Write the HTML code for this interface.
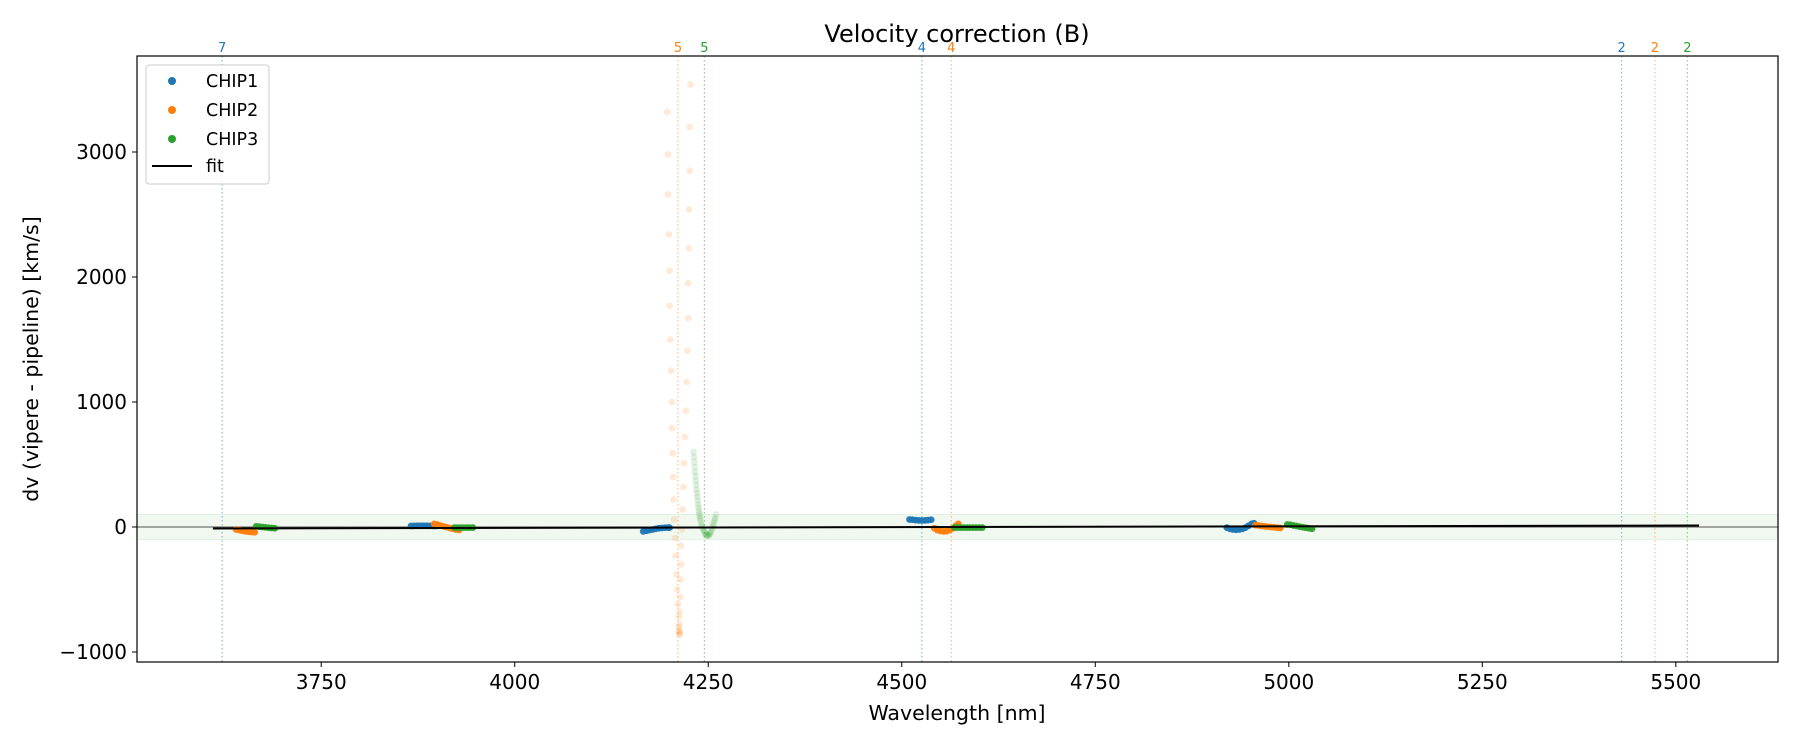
<!DOCTYPE html>
<html><head><meta charset="utf-8"><style>
body{margin:0;background:#fff}
svg{display:block;font-family:"DejaVu Sans","Liberation Sans",sans-serif}
</style></head><body>
<svg id="chart" width="1800" height="750" viewBox="0 0 1800 750"></svg>
<script>
const xTicks=[3750,4000,4250,4500,4750,5000,5250,5500];
const yTicks=[-1000,0,1000,2000,3000];
const vlineWl=[3622,4211,4245,4526,4564,5430,5473,5515];
const vlineLabel=["7","5","5","4","4","2","2","2"];
const vlineChip=[0,1,2,0,1,0,1,2];
const chip1=[[3866,8],[3870,9],[3874,10],[3878,10],[3882,10],[3886,10],[3890,9],[3894,9],[3898,8],
[4166,-35],[4170,-30],[4174,-25],[4178,-20],[4182,-15],[4186,-10],[4190,-8],[4194,-6],[4198,-5],[4200,-5],
[4510,60],[4514,58],[4518,55],[4522,53],[4526,52],[4530,53],[4534,55],[4538,58],
[4920,-5],[4924,-15],[4928,-20],[4932,-22],[4936,-20],[4940,-15],[4944,-5],[4948,10],[4952,25],[4955,30]];
const chip2=[[3640,-20],[3644,-25],[3648,-30],[3652,-35],[3656,-38],[3660,-40],[3664,-42],
[3896,25],[3900,20],[3904,12],[3908,5],[3912,-2],[3916,-8],[3920,-14],[3924,-20],[3928,-24],
[4542,-10],[4546,-25],[4550,-32],[4554,-35],[4558,-33],[4562,-25],[4566,-10],[4570,10],[4573,25],
[4957,15],[4961,12],[4965,8],[4969,5],[4973,2],[4977,0],[4981,-2],[4985,-5],[4989,-8]];
const chip2Outliers=[[4197,3320],[4198,2980],[4198,2660],[4199,2340],[4200,2050],[4200,1770],[4201,1500],[4202,1250],[4203,1000],[4203,790],[4204,590],[4205,400],[4205,220],[4206,60],[4207,-90],[4208,-230],[4209,-380],[4210,-500],[4211,-620],[4212,-720],[4212,-800],[4213,-850],
[4227,3540],[4226,3200],[4226,2850],[4225,2540],[4225,2230],[4224,1950],[4224,1670],[4223,1410],[4222,1160],[4221,930],[4220,720],[4219,510],[4218,320],[4217,140],[4216,-20],[4215,-150],[4215,-300],[4214,-420],[4214,-560],[4213,-680],[4213,-780],[4213,-830],[4213,-860],[4212,-840]];
const chip3=[[3666,5],[3670,3],[3674,0],[3678,-3],[3682,-6],[3686,-8],[3690,-10],
[3922,-5],[3926,-5],[3930,-5],[3934,-5],[3938,-5],[3942,-5],[3946,-5],
[4568,-5],[4572,-5],[4576,-5],[4580,-5],[4584,-5],[4588,-5],[4592,-5],[4596,-5],[4600,-5],[4604,-5],
[4998,20],[5002,18],[5006,12],[5010,8],[5014,3],[5018,-2],[5022,-6],[5026,-10],[5030,-14]];
const chip3Outliers=[[4231,600],[4231.5,560],[4232,520],[4232.5,480],[4233,440],[4233.5,405],[4234,370],[4234.5,335],[4235,300],[4235.5,270],[4236,240],[4236.5,210],[4237,180],[4237.5,155],[4238,130],[4238.5,110],[4239,90],[4239.5,70],[4240,50],[4241,20],[4242,5],[4243,-10],[4244,-25],[4245,-40],[4246,-50],[4247,-60],[4248,-65],[4249,-70],[4250,-70],[4251,-65],[4252,-55],[4253,-45],[4254,-30],[4255,-10],[4256,10],[4257,30],[4258,50],[4259,70],[4260,100]];
const fitWl=[3610,5530];
const fitV=[-12,12];

const NS="http://www.w3.org/2000/svg";
const svg=document.getElementById('chart');
const L=137,R=1778,T=56,B=662;
const xMin=3512,xMax=5632,yMin=-1080,yMax=3768;
const xs=v=>L+(v-xMin)/(xMax-xMin)*(R-L);
const ys=v=>B-(v-yMin)/(yMax-yMin)*(B-T);
const colors=["#1f77b4","#ff7f0e","#2ca02c"];
function mk(tag,attrs,parent){const e=document.createElementNS(NS,tag);for(const k in attrs)e.setAttribute(k,attrs[k]);(parent||svg).appendChild(e);return e;}

const band=mk('rect',{x:L,y:ys(100),width:R-L,height:ys(-100)-ys(100),fill:'#2ca02c','fill-opacity':0.07,stroke:'#2ca02c','stroke-opacity':0.1});



vlineWl.forEach((w,i)=>{
  const l=mk('line',{x1:xs(w),x2:xs(w),y1:T,y2:B,stroke:colors[vlineChip[i]],'stroke-opacity':0.5,'stroke-width':1.2,'stroke-dasharray':'1.5,2.5'});
  
  
  const t=mk('text',{x:xs(w),y:T-4,'text-anchor':'middle','font-size':13,fill:colors[vlineChip[i]]});
  t.textContent=vlineLabel[i];
  
  
});

const zl=mk('line',{x1:L,x2:R,y1:ys(0),y2:ys(0),stroke:'#555','stroke-width':1});



function dots(arr,c,op,name){
  arr.forEach(p=>{
    const d=mk('circle',{cx:xs(p[0]),cy:ys(p[1]),r:3.4,fill:c,'fill-opacity':op});
    
    
  });
}
dots(chip2Outliers,colors[1],0.16,'chip2-outlier-point');
dots(chip3Outliers,colors[2],0.15,'chip3-outlier-point');
dots(chip1,colors[0],0.95,'chip1-point');
dots(chip2,colors[1],0.95,'chip2-point');
dots(chip3,colors[2],0.95,'chip3-point');

const fit=mk('line',{x1:xs(fitWl[0]),y1:ys(fitV[0]),x2:xs(fitWl[1]),y2:ys(fitV[1]),stroke:'#000','stroke-width':2});



const frame=mk('rect',{x:L,y:T,width:R-L,height:B-T,fill:'none',stroke:'#000','stroke-width':1.2});



xTicks.forEach(v=>{
  const l=mk('line',{x1:xs(v),x2:xs(v),y1:B,y2:B+5,stroke:'#000'});
  
  
  const t=mk('text',{x:xs(v),y:B+27,'text-anchor':'middle','font-size':20});
  t.textContent=v;
  
  
});
yTicks.forEach(v=>{
  const l=mk('line',{x1:L-5,x2:L,y1:ys(v),y2:ys(v),stroke:'#000'});
  
  
  const t=mk('text',{x:L-10,y:ys(v)+7,'text-anchor':'end','font-size':20});
  t.textContent=v<0?'\u2212'+(-v):v;
  
  
});
</script>
<svg style="position:absolute;left:0;top:0" width="1800" height="750">
<text x="957" y="42" text-anchor="middle" font-size="24" font-family="DejaVu Sans, Liberation Sans, sans-serif">Velocity correction (B)</text>
<text x="957" y="720" text-anchor="middle" font-size="20.5" font-family="DejaVu Sans, Liberation Sans, sans-serif">Wavelength [nm]</text>
<text transform="translate(38,359) rotate(-90)" text-anchor="middle" font-size="20.5" font-family="DejaVu Sans, Liberation Sans, sans-serif">dv (vipere - pipeline) [km/s]</text>
<g font-family="DejaVu Sans, Liberation Sans, sans-serif" font-size="17.5">
<rect x="146" y="65" width="123" height="119" rx="3" fill="#fff" fill-opacity="0.8" stroke="#ccc"/>
<g><circle cx="172" cy="81" r="4" fill="#1f77b4"/><text x="206" y="87">CHIP1</text></g>
<g><circle cx="172" cy="110" r="4" fill="#ff7f0e"/><text x="206" y="116">CHIP2</text></g>
<g><circle cx="172" cy="139" r="4" fill="#2ca02c"/><text x="206" y="145">CHIP3</text></g>
<g><line x1="152" x2="192" y1="166" y2="166" stroke="#000" stroke-width="2"/><text x="206" y="172">fit</text></g>
</g>
</svg>
</body></html>
